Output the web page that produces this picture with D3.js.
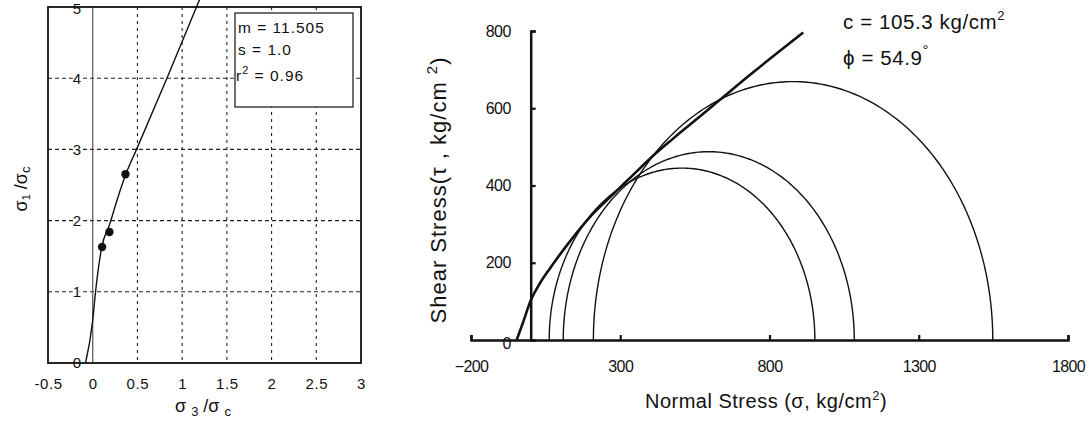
<!DOCTYPE html>
<html>
<head>
<meta charset="utf-8">
<script src="https://cdn.jsdelivr.net/npm/d3@7"></script>
<style>
  html, body { margin: 0; padding: 0; background: #fff; }
  svg { display: block; font-family: "Liberation Sans", Arial, Helvetica, sans-serif; }
</style>
</head>
<body>
<svg id="chart" width="1088" height="423"></svg>
<script>
// ---------------- DATA ----------------
// Left chart: Hoek-Brown fit (normalised stresses)
const hbCurveS3 = [-0.08, 0.0, 0.03, 0.10, 0.19, 0.27, 0.37, 0.49, 0.83, 1.2];
const hbCurveS1 = [0, 0.6, 0.98, 1.62, 1.95, 2.28, 2.65, 3.0, 4.0, 5.12];
const testS3 = [0.105, 0.187, 0.366];
const testS1 = [1.63, 1.84, 2.65];
const leftXTicks = [-0.5, 0, 0.5, 1, 1.5, 2, 2.5, 3];
const leftXLabels = ["-0.5", "0", "0.5", "1", "1.5", "2", "2.5", "3"];
const leftYTicks = [0, 1, 2, 3, 4, 5];
const leftXGrid = [0.5, 1, 1.5, 2, 2.5];
const leftYGrid = [1, 2, 3, 4];
const fitParams = ["m = 11.505", "s  = 1.0", "0.96"];

// Right chart: Mohr circles and failure envelope (kg/cm²)
const circleSigma3 = [62, 109, 210];
const circleSigma1 = [952, 1084, 1548];
const envSigma = [-47, -25, 0, 31, 65, 121, 199, 266, 344, 400, 478, 534, 628, 734, 913];
const envTau   = [0, 47, 102, 147, 186, 245, 319, 370, 428, 470, 522, 558, 618, 686, 796];
const rightXTicks = [-200, 300, 800, 1300, 1800];
const rightXLabels = ["\u2212200", "300", "800", "1300", "1800"];
const rightYTicks = [0, 200, 400, 600, 800];
const cohesionText = "c = 105.3 kg/cm";
const frictionText = "\u03d5 = 54.9";

// ---------------- DRAW ----------------
const svg = d3.select("#chart");
const ink = "#111";

// ===== Left chart =====
const xL = d3.scaleLinear().domain([-0.5, 3]).range([48, 361]);
const yL = d3.scaleLinear().domain([0, 5]).range([363, 7]);
const gL = svg.append("g");

// grid
gL.selectAll(".vg").data(leftXGrid).join("line")
  .attr("x1", d => xL(d)).attr("x2", d => xL(d))
  .attr("y1", yL(5)).attr("y2", yL(0))
  .attr("stroke", "#222").attr("stroke-width", 1.1).attr("stroke-dasharray", "3,4");
gL.selectAll(".hg").data(leftYGrid).join("line")
  .attr("x1", xL(-0.5)).attr("x2", xL(3))
  .attr("y1", d => yL(d)).attr("y2", d => yL(d))
  .attr("stroke", "#222").attr("stroke-width", 1.1).attr("stroke-dasharray", "4,3");
// zero line
gL.append("line")
  .attr("x1", xL(0)).attr("x2", xL(0)).attr("y1", yL(5)).attr("y2", yL(0))
  .attr("stroke", "#555").attr("stroke-width", 1.2);

// y tick labels (inside, left of zero line)
gL.selectAll(".yl").data(leftYTicks).join("text")
  .attr("x", xL(-0.5) + 29).attr("y", d => yL(d) + (d === 5 ? 2 : 0))
  .attr("dy", "0.36em").attr("text-anchor", "middle")
  .attr("font-size", 15).attr("fill", ink)
  .attr("stroke", "#fff").attr("stroke-width", 3).attr("paint-order", "stroke")
  .text(d => d);

// curve
const lineL = d3.line().x(d => xL(d[0])).y(d => yL(d[1])).curve(d3.curveMonotoneX);
gL.append("path")
  .datum(hbCurveS3.map((v, i) => [v, hbCurveS1[i]]))
  .attr("d", lineL).attr("fill", "none").attr("stroke", ink).attr("stroke-width", 1.4);

// points
gL.selectAll(".pt").data(testS3.map((v, i) => [v, testS1[i]])).join("circle")
  .attr("cx", d => xL(d[0])).attr("cy", d => yL(d[1])).attr("r", 4.2).attr("fill", ink);

// frame
svg.append("rect")
  .attr("x", xL(-0.5)).attr("y", yL(5))
  .attr("width", xL(3) - xL(-0.5)).attr("height", yL(0) - yL(5))
  .attr("fill", "none").attr("stroke", ink).attr("stroke-width", 1.8);

// legend box
const lb = svg.append("g");
lb.append("rect").attr("x", 235).attr("y", 13).attr("width", 118).attr("height", 94)
  .attr("fill", "#fff").attr("stroke", ink).attr("stroke-width", 1.2);
lb.append("text").attr("x", 238).attr("y", 33).attr("font-size", 15.5).attr("letter-spacing", 1).attr("fill", ink).text(fitParams[0]);
lb.append("text").attr("x", 238).attr("y", 55).attr("font-size", 15.5).attr("letter-spacing", 1).attr("fill", ink).text(fitParams[1]);
const r2 = lb.append("text").attr("x", 236).attr("y", 81).attr("font-size", 15.5).attr("letter-spacing", 1).attr("fill", ink);
r2.append("tspan").text("r");
r2.append("tspan").attr("font-size", 11).attr("dy", -7).text("2");
r2.append("tspan").attr("dy", 7).text(" = " + fitParams[2]);

// x axis labels
const axL = d3.axisBottom(xL).tickValues(leftXTicks).tickSize(0).tickPadding(15)
  .tickFormat((d, i) => leftXLabels[i]);
const gax = svg.append("g").attr("transform", `translate(0,${yL(0)})`).call(axL);
gax.select(".domain").remove();
gax.selectAll("text").attr("font-size", 15).attr("letter-spacing", 0.6).attr("fill", ink)
  .attr("font-family", '"Liberation Sans", Arial, sans-serif');

// left x title
const xt = svg.append("text").attr("x", 203).attr("y", 412).attr("text-anchor", "middle")
  .attr("font-size", 18).attr("fill", ink);
xt.append("tspan").text("\u03c3 ");
xt.append("tspan").attr("font-size", 13).attr("dy", 4).text("3");
xt.append("tspan").attr("dy", -4).text(" /\u03c3 ");
xt.append("tspan").attr("font-size", 13).attr("dy", 4).text("c");

// left y title
const yt = svg.append("text").attr("transform", "translate(27,189) rotate(-90)")
  .attr("text-anchor", "middle").attr("font-size", 18).attr("fill", ink);
yt.append("tspan").text("\u03c3");
yt.append("tspan").attr("font-size", 11).attr("dy", 3).text("1");
yt.append("tspan").attr("dy", -3).text(" /\u03c3");
yt.append("tspan").attr("font-size", 13).attr("dy", 3).text("c");

// ===== Right chart =====
const xR = d3.scaleLinear().domain([-200, 1800]).range([471, 1068]);
const yR = d3.scaleLinear().domain([0, 800]).range([340, 31]);

// Mohr circles
const lineR = d3.line().x(d => xR(d[0])).y(d => yR(d[1]));
const angles = d3.range(0, 181, 1);
svg.selectAll(".mohr").data(circleSigma3.map((s3, i) => [s3, circleSigma1[i]])).join("path")
  .attr("d", d => {
    const c = (d[0] + d[1]) / 2, r = (d[1] - d[0]) / 2;
    return lineR(angles.map(a => [c - r * Math.cos(a * Math.PI / 180), r * Math.sin(a * Math.PI / 180)]));
  })
  .attr("fill", "none").attr("stroke", ink).attr("stroke-width", 1.4);

// envelope
svg.append("path")
  .datum(envSigma.map((v, i) => [v, envTau[i]]))
  .attr("d", d3.line().x(d => xR(d[0])).y(d => yR(d[1])).curve(d3.curveMonotoneX))
  .attr("fill", "none").attr("stroke", ink).attr("stroke-width", 2.6);

// axes
const axRx = d3.axisBottom(xR).tickValues(rightXTicks).tickSizeInner(-5).tickSizeOuter(-5)
  .tickPadding(21).tickFormat((d, i) => rightXLabels[i]);
const gRx = svg.append("g").attr("transform", `translate(0,${yR(0)})`).call(axRx);
const axRy = d3.axisLeft(yR).tickValues(rightYTicks).tickSizeInner(-5).tickSizeOuter(-5)
  .tickPadding(20);
const gRy = svg.append("g").attr("transform", `translate(${xR(0)},0)`).call(axRy);
[gRx, gRy].forEach(g => {
  g.select(".domain").attr("stroke", ink).attr("stroke-width", 2.5);
  g.selectAll(".tick line").attr("stroke", ink).attr("stroke-width", 2.2);
  g.selectAll("text").attr("font-size", 16).attr("letter-spacing", -0.6).attr("fill", ink)
    .attr("font-family", '"Liberation Sans", Arial, sans-serif');
});
gRy.selectAll(".tick").filter(d => d === 0).select("line").remove();
gRy.selectAll(".tick").filter(d => d === 0).select("text").attr("dy", "0.52em");

// right axis titles
const xtR = svg.append("text").attr("x", 766).attr("y", 408).attr("text-anchor", "middle")
  .attr("font-size", 20).attr("letter-spacing", 0.5).attr("fill", ink);
xtR.append("tspan").text("Normal Stress (\u03c3, kg/cm");
xtR.append("tspan").attr("font-size", 13).attr("dy", -8).text("2");
xtR.append("tspan").attr("dy", 8).text(")");

const ytR = svg.append("text").attr("transform", "translate(446,190) rotate(-90)")
  .attr("text-anchor", "middle").attr("font-size", 22).attr("letter-spacing", 1).attr("fill", ink);
ytR.append("tspan").text("Shear Stress(\u03c4 , kg/cm ");
ytR.append("tspan").attr("font-size", 15).attr("dy", -9).text("2");
ytR.append("tspan").attr("dy", 9).text(")");

// annotations
const a1 = svg.append("text").attr("x", 843).attr("y", 29).attr("font-size", 20.5).attr("letter-spacing", 0.6).attr("fill", ink);
a1.append("tspan").text(cohesionText);
a1.append("tspan").attr("font-size", 13).attr("dy", -9).text("2");
const a2 = svg.append("text").attr("x", 843).attr("y", 65).attr("font-size", 20.5).attr("letter-spacing", 0.6).attr("fill", ink);
a2.append("tspan").text(frictionText);
a2.append("tspan").attr("font-size", 15).attr("dy", -10).text("\u00b0");
</script>
</body>
</html>
